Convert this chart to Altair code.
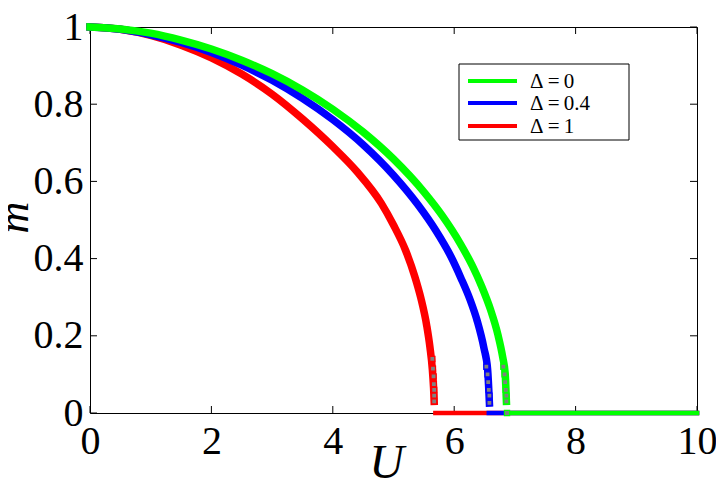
import altair as alt
import pandas as pd

# ---------------- data ----------------
series_names = ["Δ=0", "Δ=0.4", "Δ=1"]
legend_labels = ["Δ\u2009=\u20090", "Δ\u2009=\u20090.4", "Δ\u2009=\u20091"]
series_colors = ["#00FF00", "#0000FF", "#FF0000"]

# Δ=0 (green)
u_d0 = [0, 0.5, 1, 1.5, 2, 2.5, 3, 3.5, 4, 4.5, 5, 5.5, 5.8, 6.1, 6.3, 6.45, 6.6, 6.72, 6.8, 6.84, 6.86]
m_d0 = [1, 0.995, 0.984, 0.966, 0.943, 0.914, 0.879, 0.837, 0.787, 0.728, 0.658, 0.573, 0.512, 0.439, 0.381, 0.329, 0.267, 0.203, 0.144, 0.102, 0.03]
tail_u_d0 = [6.81, 6.83, 6.84, 6.85, 6.86, 6.86, 6.87]
tail_m_d0 = [0.12, 0.1, 0.08, 0.06, 0.045, 0.03, 0.0]
zero_u_d0 = [6.88, 10]

# Δ=0.4 (blue)
u_d04 = [0, 0.5, 1, 1.5, 2, 2.5, 3, 3.5, 4, 4.5, 5, 5.4, 5.7, 5.95, 6.11, 6.26, 6.38, 6.49, 6.55, 6.58]
m_d04 = [1, 0.994, 0.98, 0.96, 0.934, 0.901, 0.862, 0.815, 0.76, 0.695, 0.616, 0.54, 0.472, 0.404, 0.35, 0.294, 0.238, 0.168, 0.114, 0.026]
tail_u_d04 = [6.53, 6.55, 6.56, 6.57, 6.58, 6.58]
tail_m_d04 = [0.12, 0.1, 0.08, 0.06, 0.045, 0.026]
zero_u_d04 = [6.57, 10]

# Δ=1 (red)
u_d1 = [0, 0.5, 1, 1.5, 2, 2.5, 3, 3.5, 4, 4.4, 4.8, 5.0, 5.2, 5.35, 5.45, 5.55, 5.6, 5.64, 5.66, 5.67]
m_d1 = [1, 0.994, 0.978, 0.953, 0.92, 0.878, 0.826, 0.762, 0.69, 0.625, 0.543, 0.487, 0.421, 0.354, 0.298, 0.224, 0.171, 0.113, 0.065, 0.03]
tail_u_d1 = [5.64, 5.65, 5.66, 5.665, 5.67, 5.67, 5.67]
tail_m_d1 = [0.14, 0.115, 0.095, 0.075, 0.06, 0.045, 0.03]
zero_u_d1 = [5.69, 10]

x_ticks = [0, 2, 4, 6, 8, 10]
y_ticks = [0, 0.2, 0.4, 0.6, 0.8, 1]

W, H = 607, 386
FONT = "Liberation Serif"

x_scale = alt.Scale(domain=[0, 10], nice=False, zero=False)
y_scale = alt.Scale(domain=[0, 1], nice=False, zero=False)
color_scale = alt.Scale(domain=series_names, range=series_colors)

x_axis = alt.Axis(values=x_ticks, format="d", title="U", domain=False, ticks=False, tickSize=0,
                  grid=False, labelFont=FONT, labelFontSize=40, labelPadding=8,
                  labelColor="black", titleFont=FONT, titleFontSize=48, titleFontStyle="italic",
                  titleFontWeight="normal", titleX=296, titleY=64, titleBaseline="alphabetic",
                  titleColor="black", labelFlush=False, labelOverlap=False)
y_axis = alt.Axis(values=y_ticks, format="~g", title="m", domain=False, ticks=False, tickSize=0,
                  grid=False, labelFont=FONT, labelFontSize=40, labelPadding=7,
                  labelColor="black", titleFont=FONT, titleFontSize=44, titleFontStyle="italic",
                  titleFontWeight="normal", titleX=-63, titleY=190, titleBaseline="alphabetic",
                  titleAngle=270, titleColor="black", labelFlush=False, labelOverlap=False)


def series_layers(name, color, u, m, tu, tm, zu):
    curve_df = pd.DataFrame({"U": u, "m": m, "series": name})
    zero_df = pd.DataFrame({"U": zu, "m": [0] * len(zu), "series": name})
    tail_df = pd.DataFrame({"U": tu, "m": tm})
    enc_color = alt.Color("series:N", scale=color_scale, legend=None)
    curve = alt.Chart(curve_df).mark_line(strokeWidth=7.5, strokeCap="square", interpolate="monotone",
                                          clip=False).encode(
        x=alt.X("U:Q", scale=x_scale, axis=x_axis),
        y=alt.Y("m:Q", scale=y_scale, axis=y_axis),
        color=enc_color,
    )
    zero = alt.Chart(zero_df).mark_line(strokeWidth=4.5, strokeCap="square", clip=False).encode(
        x=alt.X("U:Q", scale=x_scale),
        y=alt.Y("m:Q", scale=y_scale),
        color=enc_color,
    )
    tail = alt.Chart(tail_df).mark_square(size=26, fill="#808080", fillOpacity=1, stroke=color,
                                          strokeWidth=1.3, opacity=1, clip=False).encode(
        x=alt.X("U:Q", scale=x_scale),
        y=alt.Y("m:Q", scale=y_scale),
    )
    return [curve, zero, tail]


layers = []
layers += series_layers(series_names[2], series_colors[2], u_d1, m_d1, tail_u_d1, tail_m_d1, zero_u_d1)
layers += series_layers(series_names[1], series_colors[1], u_d04, m_d04, tail_u_d04, tail_m_d04, zero_u_d04)
layers += series_layers(series_names[0], series_colors[0], u_d0, m_d0, tail_u_d0, tail_m_d0, zero_u_d0)

# inward ticks on all four sides
xt_df = pd.DataFrame({"t": x_ticks})
yt_df = pd.DataFrame({"t": y_ticks})
tick_len = 7
xtick_bottom = alt.Chart(xt_df).mark_rule(color="black", strokeWidth=1).encode(
    x=alt.X("t:Q", scale=x_scale), y=alt.value(H), y2=alt.value(H - tick_len))
xtick_top = alt.Chart(xt_df).mark_rule(color="black", strokeWidth=1).encode(
    x=alt.X("t:Q", scale=x_scale), y=alt.value(0), y2=alt.value(tick_len))
ytick_left = alt.Chart(yt_df).mark_rule(color="black", strokeWidth=1).encode(
    y=alt.Y("t:Q", scale=y_scale), x=alt.value(0), x2=alt.value(tick_len))
ytick_right = alt.Chart(yt_df).mark_rule(color="black", strokeWidth=1).encode(
    y=alt.Y("t:Q", scale=y_scale), x=alt.value(W - tick_len), x2=alt.value(W))

# legend box (MATLAB style)
leg_box = alt.Chart(pd.DataFrame({"k": [0]})).mark_rect(
    fill="white", stroke="black", strokeWidth=1, clip=False).encode(
    x=alt.value(369), x2=alt.value(539), y=alt.value(37), y2=alt.value(113))
leg_rows_y = [54, 76, 99]
leg_layers = [leg_box]
for name, lab, col, yy in zip(series_names, legend_labels, series_colors, leg_rows_y):
    leg_layers.append(
        alt.Chart(pd.DataFrame({"series": [name]})).mark_rule(color=col, strokeWidth=4).encode(
            x=alt.value(378), x2=alt.value(427), y=alt.value(yy)))
    leg_layers.append(
        alt.Chart(pd.DataFrame({"label": [lab]})).mark_text(
            font=FONT, fontSize=21, align="left", baseline="middle", color="black").encode(
            x=alt.value(440), y=alt.value(yy + 1), text="label:N"))

chart = alt.layer(xtick_bottom, xtick_top, ytick_left, ytick_right, *layers, *leg_layers).properties(
    width=W, height=H,
    autosize=alt.AutoSizeParams(type="none"),
    padding={"left": 82, "top": 19, "right": 19, "bottom": 68},
    background="white",
).configure_view(stroke="black", strokeWidth=1)

chart.save("out.html", embed_options={"renderer": "svg", "actions": False})
